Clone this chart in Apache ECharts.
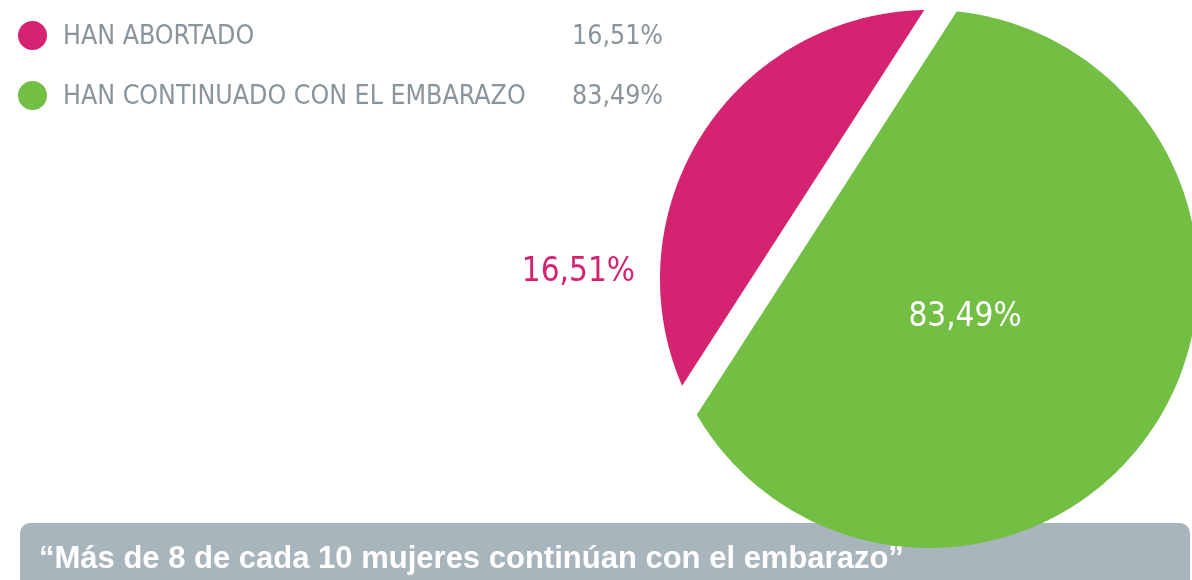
<!DOCTYPE html>
<html><head><meta charset="utf-8">
<script src="https://cdn.jsdelivr.net/npm/echarts@6/dist/echarts.min.js"></script>
<style>html,body{margin:0;padding:0;background:#fff}#chart{width:1192px;height:580px}</style>
</head><body><div id="chart"></div>
<script>
// ---- data ----
const categories = ['HAN ABORTADO', 'HAN CONTINUADO CON EL EMBARAZO'];
const values = [16.51, 83.49];
const colors = ['#d42371', '#72bf44'];
const headline = '\u201CMás de 8 de cada 10 mujeres continúan con el embarazo\u201D';

// ---- layout / style ----
const NARROW = "'Liberation Sans Narrow', 'DejaVu Sans Condensed', 'Arial Narrow', sans-serif";
const CX = 929, CY = 279, R = 269, NORMAL_DEG = 212.8, GAP = 28;
const fmt = v => v.toFixed(2).replace('.', ',') + '%';
const total = values.reduce((a, b) => a + b, 0);

function segmentAngle(f) { // central angle t of a circular segment with area fraction f
  let lo = 0, hi = 2 * Math.PI;
  for (let i = 0; i < 60; i++) {
    const m = (lo + hi) / 2;
    if ((m - Math.sin(m)) / (2 * Math.PI) < f) lo = m; else hi = m;
  }
  return (lo + hi) / 2;
}

function makeRender(idx) {
  return function (params, api) {
    const v = api.value(0);
    const phi = NORMAL_DEG * Math.PI / 180;
    const smallFrac = idx === 0 ? v / total : 1 - v / total;
    const dSplit = R * Math.cos(segmentAngle(smallFrac) / 2);
    let a0, a1;
    if (idx === 0) {
      const al = Math.acos(dSplit / R); a0 = phi - al; a1 = phi + al;
    } else {
      const al = Math.acos((dSplit - GAP) / R); a0 = phi + al; a1 = phi + 2 * Math.PI - al;
    }
    const pts = [];
    const N = 300;
    for (let k = 0; k <= N; k++) {
      const t = a0 + (a1 - a0) * k / N;
      pts.push([CX + R * Math.cos(t), CY + R * Math.sin(t)]);
    }
    const label = idx === 0
      ? { type: 'text', x: CX - R - 25, y: CY - 7,
          style: { text: fmt(v), fill: colors[0], fontSize: 33, fontFamily: NARROW, align: 'right', verticalAlign: 'middle' } }
      : { type: 'text', x: CX + 36, y: CY + 38,
          style: { text: fmt(v), fill: '#ffffff', fontSize: 33, fontFamily: NARROW, align: 'center', verticalAlign: 'middle' } };
    return {
      type: 'group',
      children: [
        { type: 'polygon', shape: { points: pts }, style: { fill: api.visual('color') } },
        label
      ]
    };
  };
}

const chart = echarts.init(document.getElementById('chart'), null, { renderer: 'canvas' });
chart.setOption({
  animation: false,
  backgroundColor: '#ffffff',
  legend: {
    orient: 'vertical', left: 18, top: 21, padding: 0,
    itemWidth: 29, itemHeight: 29, itemGap: 30,
    icon: 'circle',
    data: categories,
    selectedMode: false,
    formatter: name => '{n|' + name + '}{v|' + fmt(values[categories.indexOf(name)]) + '}',
    textStyle: {
      padding: [4, 0, 0, 11],
      rich: {
        n: { width: 500, fontSize: 26.5, lineHeight: 25, fontFamily: NARROW, color: '#8a949b' },
        v: { width: 100, align: 'right', fontSize: 26.5, lineHeight: 25, fontFamily: NARROW, color: '#8a949b' }
      }
    }
  },
  graphic: [
    { type: 'rect', z: 0, shape: { x: 20, y: 523, width: 1170, height: 90, r: 10 }, style: { fill: '#a9b5bd' } },
    { type: 'text', z: 1, x: 39, y: 559,
      style: { text: headline, fill: '#ffffff', fontSize: 31, fontWeight: 'bold',
               fontFamily: "'Liberation Sans', Arial, sans-serif", verticalAlign: 'middle' } }
  ],
  series: categories.map((name, i) => ({
    type: 'custom', name: name, coordinateSystem: 'none', z: 10, silent: true,
    itemStyle: { color: colors[i] },
    data: [[values[i]]],
    renderItem: makeRender(i)
  }))
});
</script>
</body></html>
